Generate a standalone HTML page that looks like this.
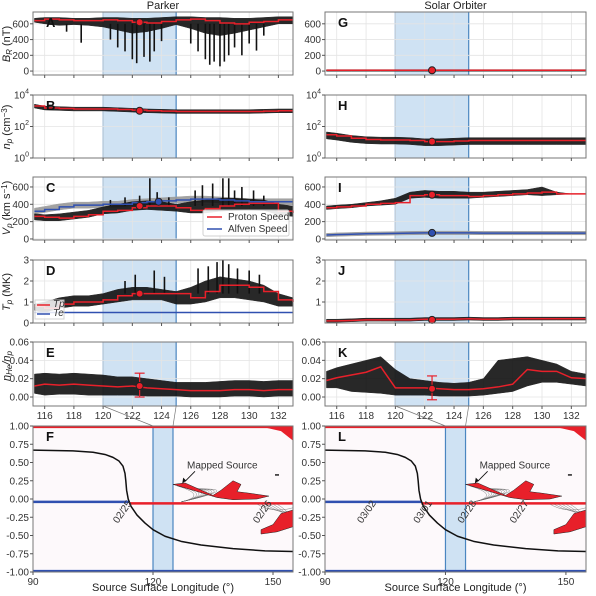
<!DOCTYPE html>
<html><head><meta charset="utf-8">
<style>
body{margin:0;background:#fff;}
svg{display:block;font-family:"Liberation Sans","DejaVu Sans",sans-serif;}
.tk{font-size:10px;fill:#333;}
.lab{font-size:11px;fill:#222;}
.let{font-size:13px;font-weight:bold;fill:#111;}
</style></head>
<body>
<svg id="fig" width="596" height="596" viewBox="0 0 596 596"></svg>
<script>
const lons = [115.3,116,117,118,119,120,121,122,123,124,125,126,127,128,129,130,131,132,133];
// Parker
const pA_red = [640,660,650,640,640,650,640,620,610,630,650,660,640,610,600,620,630,650,650];
const pA_lo  = [620,600,580,590,580,560,520,480,500,540,590,540,480,450,480,520,560,600,600];
const pA_hi  = [670,680,680,670,670,680,680,670,670,680,690,690,680,680,670,670,680,690,690];
const pA_spikeLon = [117.5,118.5,120.5,121,121.5,122,122.3,122.8,123.2,123.5,124,126,126.5,127,127.3,127.6,128,128.3,128.6,129,129.5,130,130.5,131];
const pA_spikeMin = [500,360,400,300,250,150,100,180,120,250,380,350,250,150,80,120,60,120,200,300,200,350,260,450];
const pB_red = [2000,1500,1400,1300,1300,1300,1200,1100,1000,950,900,900,900,900,900,900,950,1000,1000];
const pC_red = [260,250,240,260,280,320,330,360,380,380,360,330,350,380,400,410,410,320,300];
const pC_blue= [320,340,370,390,390,400,400,420,430,440,450,460,460,450,440,430,430,430,430];
const pC_hi  = [290,280,290,310,330,370,400,430,440,430,400,430,450,470,470,460,450,400,380];
const pC_lo  = [220,210,210,230,250,290,300,330,340,330,320,300,300,320,330,340,330,280,260];
const pC_spikeLon = [120.5,121.5,122.5,123.2,123.7,124.5,126.3,126.8,127.5,128.2,128.6,129,129.5,130.3,131];
const pC_spikeMax = [450,480,500,700,540,480,560,620,640,700,700,560,600,560,500];
const pD_red = [0.8,0.7,0.9,1.0,1.0,1.1,1.3,1.4,1.4,1.4,1.4,1.2,1.5,1.8,1.8,1.7,1.5,1.1,1.0];
const pD_hi  = [0.9,1.0,1.2,1.3,1.3,1.4,1.6,1.7,1.7,1.6,1.5,1.7,2.0,2.2,2.1,2.0,1.8,1.4,1.2];
const pD_lo  = [0.6,0.5,0.7,0.8,0.8,0.9,1.0,1.1,1.1,1.1,0.9,0.9,1.0,1.2,1.2,1.1,1.0,0.8,0.8];
const pD_spikeLon = [121.5,122.2,123.5,124.2,126.5,127.2,127.8,128.2,128.6,129.2,130,130.7];
const pD_spikeMax = [2.0,2.3,2.5,2.2,2.6,2.7,2.9,3.0,2.8,2.6,2.5,2.3];
const pD_te  = [0.5,0.5,0.5,0.5,0.5,0.5,0.5,0.5,0.5,0.5,0.5,0.5,0.5,0.5,0.5,0.5,0.5,0.5,0.5];
const pE_red = [0.012,0.014,0.013,0.014,0.013,0.012,0.011,0.012,0.010,0.009,0.008,0.007,0.007,0.007,0.008,0.008,0.007,0.008,0.008];
const pE_hi  = [0.025,0.026,0.025,0.026,0.025,0.024,0.022,0.022,0.020,0.018,0.016,0.016,0.016,0.017,0.018,0.018,0.017,0.018,0.018];
const pE_lo  = [0.004,0.002,0.003,0.003,0.002,0.002,0.002,0.002,0.001,0.001,0.001,0.000,0.000,0.000,0.001,0.001,0.000,0.001,0.001];
// Solar Orbiter
const sG_red = [10,10,10,10,10,10,10,10,10,10,10,10,10,10,10,10,10,10,10];
const sH_red = [30,25,18,15,14,14,13,11,11,12,13,13,13,13,13,13,13,13,13];
const sI_red = [360,370,380,400,410,420,500,510,500,500,490,500,510,520,530,540,520,520,520];
const sI_hi  = [380,390,400,420,440,470,540,560,550,550,540,540,550,560,570,600,540,520,520];
const sI_lo  = [340,350,360,380,390,400,470,480,470,470,470,480,490,500,510,500,510,520,520];
const sI_blue= [45,50,55,60,62,65,68,70,70,70,70,68,68,68,68,68,68,68,68];
const sJ_red = [0.1,0.1,0.12,0.15,0.15,0.15,0.15,0.18,0.18,0.18,0.2,0.18,0.18,0.2,0.2,0.2,0.2,0.2,0.2];
const sK_red = [0.018,0.021,0.024,0.027,0.033,0.010,0.010,0.010,0.009,0.008,0.008,0.009,0.011,0.014,0.030,0.028,0.028,0.021,0.020];
const sK_hi  = [0.028,0.032,0.036,0.040,0.044,0.030,0.020,0.018,0.016,0.015,0.016,0.020,0.040,0.042,0.044,0.040,0.036,0.028,0.025];
const sK_lo  = [0.010,0.010,0.006,0.005,0.004,0.002,0.002,0.002,0.001,0.001,0.001,0.002,0.004,0.006,0.012,0.016,0.016,0.014,0.012];
// Source surface panels
const nlLon = [90,100,105,108,110,111.5,112.5,113,113.2,113.4,113.8,114.5,116,118,120,123,127,132,140,148,155];
const nlLat = [0.67,0.66,0.64,0.61,0.57,0.52,0.45,0.35,0.25,0.12,0.0,-0.1,-0.22,-0.33,-0.42,-0.51,-0.58,-0.63,-0.68,-0.71,-0.72];
const yTicksF = [1.0,0.75,0.5,0.25,0.0,-0.25,-0.5,-0.75,-1.0];
const xTicksF = [90,120,150];
const xTicksTop = [116,118,120,122,124,126,128,130,132];

const NS="http://www.w3.org/2000/svg";
const svg=document.getElementById('fig');
function el(tag,attrs,parent){const e=document.createElementNS(NS,tag);for(const k in attrs)e.setAttribute(k,attrs[k]);(parent||svg).appendChild(e);return e;}

function makeAxes(x0,y0,w,h,xmin,xmax,ymin,ymax,log){
  const sx=v=>x0+(v-xmin)/(xmax-xmin)*w;
  const sy=v=>{const t=log?Math.log10(Math.max(v,1e-9)):v;return y0+h-(t-ymin)/(ymax-ymin)*h;};
  return {sx,sy,x0,y0,w,h};
}
function frame(ax,name){
  const r=el('rect',{x:ax.x0,y:ax.y0,width:ax.w,height:ax.h,fill:'none',stroke:'#777','stroke-width':1});
  
  
}
function grid(ax,xs,ys){
  xs.forEach(v=>el('line',{x1:ax.sx(v),x2:ax.sx(v),y1:ax.y0,y2:ax.y0+ax.h,stroke:'#e4e4e4','stroke-width':0.8}));
  ys.forEach(v=>el('line',{x1:ax.x0,x2:ax.x0+ax.w,y1:ax.sy(v),y2:ax.sy(v),stroke:'#e4e4e4','stroke-width':0.8}));
}
function shade(ax,a,b,name){
  const r=el('rect',{x:ax.sx(a),y:ax.y0,width:ax.sx(b)-ax.sx(a),height:ax.h,fill:'#cfe2f3',stroke:'none'});
  
  
  el('line',{x1:ax.sx(a),x2:ax.sx(a),y1:ax.y0,y2:ax.y0+ax.h,stroke:'#4a86c0','stroke-width':1.2});
  el('line',{x1:ax.sx(b),x2:ax.sx(b),y1:ax.y0,y2:ax.y0+ax.h,stroke:'#4a86c0','stroke-width':1.2});
}
function band(ax,xs,lo,hi,color,name){
  let d='M'+xs.map((x,i)=>ax.sx(x)+','+ax.sy(hi[i])).join('L');
  for(let i=xs.length-1;i>=0;i--)d+='L'+ax.sx(xs[i])+','+ax.sy(lo[i]);
  const p=el('path',{d:d+'Z',fill:color,stroke:color,'stroke-width':0.5,opacity:0.9});
  
  
}
function spikes(ax,xs,base,ends,name){
  xs.forEach((x,i)=>{
    const l=el('line',{x1:ax.sx(x),x2:ax.sx(x),y1:ax.sy(base),y2:ax.sy(ends[i]),stroke:'#111','stroke-width':1.6});
    
    
  });
}
function line(ax,xs,ys,color,wd,name,step){
  let d='';
  xs.forEach((x,i)=>{const X=ax.sx(x),Y=ax.sy(ys[i]);
    if(i===0)d+='M'+X+','+Y;else if(step)d+='H'+X+'V'+Y;else d+='L'+X+','+Y;});
  const p=el('path',{d:d,fill:'none',stroke:color,'stroke-width':wd});
  
  
}
function dot(ax,x,y,color,name){
  const c=el('circle',{cx:ax.sx(x),cy:ax.sy(y),r:3.5,fill:color,stroke:'#222','stroke-width':1});
  
  
}
function yt(ax,vals,labels){
  vals.forEach((v,i)=>{
    el('line',{x1:ax.x0-3,x2:ax.x0,y1:ax.sy(v),y2:ax.sy(v),stroke:'#555'});
    const t=el('text',{x:ax.x0-4,y:ax.sy(v)+3.5,'text-anchor':'end',class:'tk'});t.innerHTML=labels[i];
    
    
  });
}
function xt(ax,vals,show){
  vals.forEach(v=>{
    el('line',{x1:ax.sx(v),x2:ax.sx(v),y1:ax.y0+ax.h,y2:ax.y0+ax.h+3,stroke:'#555'});
    if(show){const t=el('text',{x:ax.sx(v),y:ax.y0+ax.h+13,'text-anchor':'middle',class:'tk'});t.textContent=v;
      
      }
  });
}
function letter(ax,s){const t=el('text',{x:ax.x0+13,y:ax.y0+15,class:'let'});t.textContent=s;
  
  }
function ylab(x,y,html,name){
  const g=el('g',{transform:`translate(${x} ${y}) rotate(-90)`});
  const t=el('text',{x:0,y:0,'text-anchor':'middle',class:'lab'},g);t.innerHTML=html;
  
  }

const cols=[{x0:33,w:260,id:'p'},{x0:325,w:261,id:'s'}];
const rows=[{y0:12,h:63},{y0:95,h:63},{y0:177,h:63},{y0:260,h:63},{y0:342,h:64}];
const X0=115.2,X1=133;

cols.forEach((c,ci)=>{
  const P=ci===0;
  // A/G
  let ax=makeAxes(c.x0,rows[0].y0,c.w,rows[0].h,X0,X1,-50,750);
  shade(ax,120,125,'interval-shade');grid(ax,xTicksTop,[0,200,400,600]);
  if(P){band(ax,lons,pA_lo,pA_hi,'#111','br-scatter');spikes(ax,pA_spikeLon,600,pA_spikeMin,'br-spike');line(ax,lons,pA_red,'#e8202a',1.5,'br-median',true);dot(ax,122.5,620,'#e8202a','br-marker');}
  else{band(ax,lons,sG_red.map(v=>v-12),sG_red.map(v=>v+8),'#111','br-scatter');line(ax,lons,sG_red,'#e8202a',1.5,'br-median');dot(ax,122.5,10,'#e8202a','br-marker');}
  frame(ax,'panel-br');yt(ax,[0,200,400,600],['0','200','400','600']);xt(ax,xTicksTop,false);letter(ax,P?'A':'G');
  // B/H
  ax=makeAxes(c.x0,rows[1].y0,c.w,rows[1].h,X0,X1,0,4,true);
  shade(ax,120,125,'interval-shade');grid(ax,xTicksTop,[1,100,10000]);
  const bR=P?pB_red:sH_red;
  band(ax,lons,bR.map(v=>v*(P?0.75:0.55)),bR.map(v=>v*(P?1.3:1.5)),'#111','np-scatter');
  line(ax,lons,bR,'#e8202a',1.5,'np-median',true);dot(ax,122.5,P?1000:11,'#e8202a','np-marker');
  frame(ax,'panel-np');yt(ax,[1,100,10000],['10<tspan dy="-5" font-size="7">0</tspan>','10<tspan dy="-5" font-size="7">2</tspan>','10<tspan dy="-5" font-size="7">4</tspan>']);xt(ax,xTicksTop,false);letter(ax,P?'B':'H');
  // C/I
  ax=makeAxes(c.x0,rows[2].y0,c.w,rows[2].h,X0,X1,-12,715);
  shade(ax,120,125,'interval-shade');grid(ax,xTicksTop,[0,200,400,600]);
  if(P){band(ax,lons,pC_blue.map(v=>v-35),pC_blue.map(v=>v+35),'#999','alfven-scatter');
    band(ax,lons,pC_lo,pC_hi,'#111','speed-scatter');
    spikes(ax,pC_spikeLon,380,pC_spikeMax,'speed-spike');
    line(ax,lons,pC_blue,'#3050b0',1.5,'alfven-speed-line',true);line(ax,lons,pC_red,'#e8202a',1.5,'proton-speed-line',true);
    dot(ax,122.5,380,'#e8202a','speed-marker');dot(ax,123.8,430,'#3050b0','alfven-marker');}
  else{band(ax,lons,sI_blue.map(v=>v-20),sI_blue.map(v=>v+20),'#999','alfven-scatter');
    band(ax,lons,sI_lo,sI_hi,'#111','speed-scatter');
    line(ax,lons,sI_blue,'#3050b0',1.5,'alfven-speed-line');line(ax,lons,sI_red,'#e8202a',1.5,'proton-speed-line',true);
    dot(ax,122.5,510,'#e8202a','speed-marker');dot(ax,122.5,70,'#3050b0','alfven-marker');}
  frame(ax,'panel-speed');yt(ax,[0,200,400,600],['0','200','400','600']);xt(ax,xTicksTop,false);letter(ax,P?'C':'I');
  if(P){const g=el('g',{});
    el('rect',{x:203,y:210,width:86,height:26,fill:'#fff',stroke:'#ccc',rx:2,opacity:0.9},g);
    el('line',{x1:207,x2:222,y1:217,y2:217,stroke:'#e8202a','stroke-width':1.5},g);
    el('line',{x1:207,x2:222,y1:229,y2:229,stroke:'#3050b0','stroke-width':1.5},g);
    let t=el('text',{x:228,y:220,class:'tk','font-size':'9'},g);t.textContent='Proton Speed';
    t=el('text',{x:228,y:232,class:'tk','font-size':'9'},g);t.textContent='Alfven Speed';}
  // D/J
  ax=makeAxes(c.x0,rows[3].y0,c.w,rows[3].h,X0,X1,0,3);
  shade(ax,120,125,'interval-shade');grid(ax,xTicksTop,[0,1,2,3]);
  if(P){band(ax,lons,pD_lo,pD_hi,'#111','tp-scatter');
    spikes(ax,pD_spikeLon,1.4,pD_spikeMax,'tp-spike');
    line(ax,lons,pD_te,'#3050b0',1.5,'te-line');
    line(ax,lons,pD_red,'#e8202a',1.5,'tp-median',true);dot(ax,122.5,1.4,'#e8202a','tp-marker');
    const g=el('g',{});
    el('rect',{x:35,y:300,width:29,height:19,fill:'#fff',stroke:'#ccc',opacity:0.85},g);
    el('line',{x1:37,x2:50,y1:305,y2:305,stroke:'#e8202a','stroke-width':1.5},g);
    el('line',{x1:37,x2:50,y1:314,y2:314,stroke:'#3050b0','stroke-width':1.5},g);
    let t=el('text',{x:53,y:307,class:'tk','font-size':'6','font-style':'italic'},g);t.textContent='Tp';
    t=el('text',{x:53,y:316,class:'tk','font-size':'6','font-style':'italic'},g);t.textContent='Te';
  }else{band(ax,lons,sJ_red.map(v=>v-0.06),sJ_red.map(v=>v+0.08),'#111','tp-scatter');
    line(ax,lons,sJ_red,'#e8202a',1.5,'tp-median');dot(ax,122.5,0.15,'#e8202a','tp-marker');}
  frame(ax,'panel-tp');yt(ax,P?[0,1,2,3]:[1,2,3],P?['0','1','2','3']:['1','2','3']);xt(ax,xTicksTop,false);letter(ax,P?'D':'J');
  // E/K
  ax=makeAxes(c.x0,rows[4].y0,c.w,rows[4].h,X0,X1,-0.0098,0.06);
  shade(ax,120,125,'interval-shade');grid(ax,xTicksTop,[0,0.02,0.04,0.06]);
  if(P){band(ax,lons,pE_lo,pE_hi,'#111','he-scatter');line(ax,lons,pE_red,'#e8202a',1.5,'he-median');}
  else{band(ax,lons,sK_lo,sK_hi,'#111','he-scatter');line(ax,lons,sK_red,'#e8202a',1.5,'he-median');}
  const ey=P?0.012:0.009;
  el('line',{x1:ax.sx(122.5),x2:ax.sx(122.5),y1:ax.sy(ey+0.014),y2:ax.sy(ey-0.012),stroke:'#e8202a','stroke-width':1.2});
  el('line',{x1:ax.sx(122.5)-5,x2:ax.sx(122.5)+5,y1:ax.sy(ey+0.014),y2:ax.sy(ey+0.014),stroke:'#e8202a','stroke-width':1.2});
  el('line',{x1:ax.sx(122.5)-5,x2:ax.sx(122.5)+5,y1:ax.sy(ey-0.012),y2:ax.sy(ey-0.012),stroke:'#e8202a','stroke-width':1.2});
  dot(ax,122.5,ey,'#e8202a','he-marker');
  frame(ax,'panel-he');yt(ax,[0,0.02,0.04,0.06],['0.00','0.02','0.04','0.06']);xt(ax,xTicksTop,true);letter(ax,P?'E':'K');
  const eAx=ax;
  // F/L
  ax=makeAxes(c.x0,426,c.w,146,90,155,-1,1);
  el('line',{x1:eAx.sx(120),y1:406,x2:ax.sx(120),y2:426,stroke:'#777','stroke-width':0.7});
  el('line',{x1:eAx.sx(125),y1:406,x2:ax.sx(125),y2:426,stroke:'#777','stroke-width':0.7});
  el('rect',{x:ax.x0,y:ax.y0,width:ax.w,height:ax.h,fill:'#fdf9fb'});
  shade(ax,120,125,'interval-shade');
  el('line',{x1:ax.x0,x2:ax.x0+ax.w,y1:ax.sy(0.985),y2:ax.sy(0.985),stroke:'#e8202a','stroke-width':2});
  el('path',{d:`M${ax.sx(148)},${ax.sy(0.98)} L${ax.sx(152)},${ax.sy(0.93)} L${ax.sx(155)},${ax.sy(0.8)} L${ax.sx(155)},${ax.sy(0.98)}Z`,fill:'#e8202a'});
  el('line',{x1:ax.x0,x2:ax.x0+ax.w,y1:ax.sy(-0.985),y2:ax.sy(-0.985),stroke:'#3050b0','stroke-width':2});
  el('line',{x1:ax.x0,x2:ax.sx(114),y1:ax.sy(-0.04),y2:ax.sy(-0.04),stroke:'#3050b0','stroke-width':2.5});
  el('line',{x1:ax.sx(114),x2:ax.x0+ax.w,y1:ax.sy(-0.06),y2:ax.sy(-0.06),stroke:'#e8202a','stroke-width':2.5});
  for(let k=0;k<10;k++){el('path',{d:`M${ax.sx(127)},${ax.sy(-0.04)} Q${ax.sx(134+k)},${ax.sy(0.05+k*0.012)} ${ax.sx(126+k*0.5)},${ax.sy(0.18-k*0.005)}`,fill:'none',stroke:'#666','stroke-width':0.4});}
  for(let k=0;k<6;k++){el('path',{d:`M${ax.sx(146+k)},${ax.sy(-0.07)} Q${ax.sx(150+k)},${ax.sy(-0.2)} ${ax.sx(155)},${ax.sy(-0.12-k*0.05)}`,fill:'none',stroke:'#666','stroke-width':0.4});}
  const s1=el('path',{d:`M${ax.sx(125)},${ax.sy(0.2)} L${ax.sx(128)},${ax.sy(0.22)} L${ax.sx(135)},${ax.sy(0.05)} L${ax.sx(137)},${ax.sy(0.12)} L${ax.sx(140)},${ax.sy(0.25)} L${ax.sx(142)},${ax.sy(0.2)} L${ax.sx(141)},${ax.sy(0.1)} L${ax.sx(144)},${ax.sy(0.08)} L${ax.sx(149)},${ax.sy(0.04)} L${ax.sx(146)},${ax.sy(0.0)} L${ax.sx(140)},${ax.sy(-0.01)} L${ax.sx(136)},${ax.sy(0.02)} L${ax.sx(130)},${ax.sy(0.12)}Z`,fill:'#e8202a',stroke:'#222','stroke-width':0.5});
  
  
  el('path',{d:`M${ax.sx(155)},${ax.sy(-0.15)} L${ax.sx(152)},${ax.sy(-0.2)} L${ax.sx(150)},${ax.sy(-0.35)} L${ax.sx(147)},${ax.sy(-0.42)} L${ax.sx(147)},${ax.sy(-0.48)} L${ax.sx(151)},${ax.sy(-0.45)} L${ax.sx(155)},${ax.sy(-0.38)}Z`,fill:'#e8202a',stroke:'#222','stroke-width':0.5});
  el('rect',{x:ax.sx(150.5),y:ax.sy(0.34),width:4,height:1.5,fill:'#222'});
  const nl=el('path',{d:'M'+nlLon.map((x,i)=>ax.sx(x)+','+ax.sy(nlLat[i])).join('L'),fill:'none',stroke:'#111','stroke-width':1.5,'stroke-linejoin':'round'});
  
  
  const at=el('text',{x:ax.sx(128.5),y:ax.sy(0.42),class:'tk','font-size':'9.5'});at.textContent='Mapped Source';
  
  el('line',{x1:ax.sx(130.5),y1:ax.sy(0.38),x2:ax.sx(128),y2:ax.sy(0.24),stroke:'#111','stroke-width':0.9});
  el('path',{d:`M${ax.sx(127.3)},${ax.sy(0.21)} l1,-6 l3,3Z`,fill:'#111'});
  const dates=P?[['02/25',113],['02/26',148]]:[['03/02',101],['03/01',115],['02/28',126],['02/27',139]];
  dates.forEach(d=>{const X=ax.sx(d[1]),Y=ax.sy(-0.2);const t=el('text',{x:X,y:Y,transform:`rotate(-55 ${X} ${Y})`,'text-anchor':'middle',class:'tk','font-size':'9'});t.textContent=d[0];
    });
  frame(ax,'panel-source-surface');
  yt(ax,yTicksF,yTicksF.map(v=>v.toFixed(2)));
  xt(ax,xTicksF,true);
  letter(ax,P?'F':'L');
  const xl=el('text',{x:c.x0+c.w/2,y:591,'text-anchor':'middle',class:'lab','font-size':'10'});xl.textContent='Source Surface Longitude (°)';
  
  const ti=el('text',{x:c.x0+c.w/2,y:9,'text-anchor':'middle',class:'lab','font-size':'12'});ti.textContent=P?'Parker':'Solar Orbiter';
  
});
const SUB='baseline-shift="-25%" font-size="8" font-style="italic"';
const SUP='baseline-shift="35%" font-size="8"';
ylab(10,44,`<tspan font-style="italic">B</tspan><tspan ${SUB}>R</tspan> (nT)`,'y-axis-title-br');
ylab(10,127,`<tspan font-style="italic">n</tspan><tspan ${SUB}>p</tspan> (cm<tspan ${SUP}>−3</tspan>)`,'y-axis-title-np');
ylab(10,208,`<tspan font-style="italic">V</tspan><tspan ${SUB}>p</tspan> (km s<tspan ${SUP}>−1</tspan>)`,'y-axis-title-speed');
ylab(10,292,`<tspan font-style="italic">T</tspan><tspan ${SUB}>p</tspan> (MK)`,'y-axis-title-tp');
ylab(10,366,`<tspan font-style="italic">n</tspan><tspan ${SUB}>He</tspan><tspan font-style="italic">/n</tspan><tspan ${SUB}>p</tspan>`,'y-axis-title-he');
</script>
</body></html>
